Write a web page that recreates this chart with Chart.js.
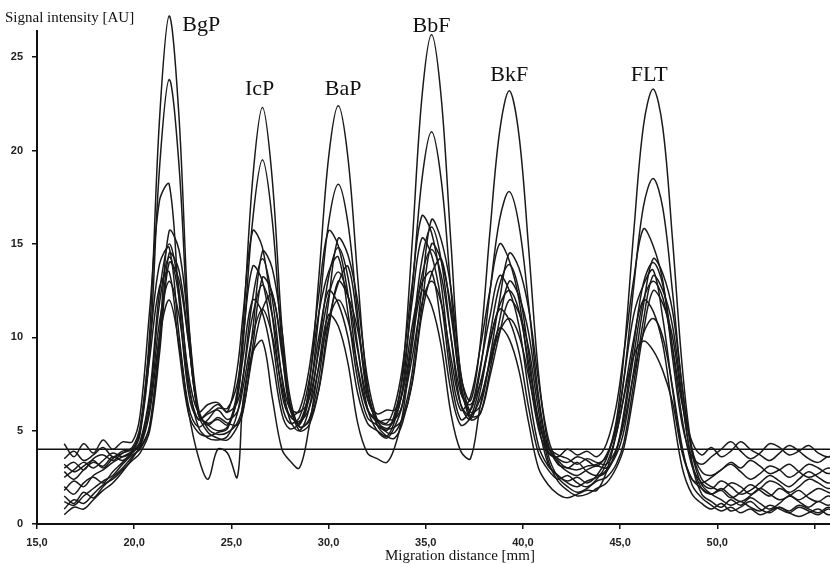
<!DOCTYPE html>
<html>
<head>
<meta charset="utf-8">
<title>Densitogram - signal intensity vs migration distance</title>
<script src="https://cdn.jsdelivr.net/npm/chart.js@4.4.1/dist/chart.umd.min.js"></script>
<style>
  html, body { margin: 0; padding: 0; background: #fff; }
</style>
</head>
<body>
<canvas id="densitogram" width="830" height="564"></canvas>
<script>
/* =====================================
   DATA
===================================== */
// migration distance grid [mm]
const migrationMm = [
  16.4, 16.9, 17.4, 17.9, 18.4, 18.9, 19.4, 19.9,
  20.3, 20.8, 21.3, 21.8, 22.3, 22.8, 23.3,
  23.8, 24.3, 24.8, 25.3,
  25.6, 26.1, 26.6, 27.1, 27.6,
  28.0, 28.5, 29.0,
  29.5, 30.0, 30.5, 31.0, 31.5,
  32.0, 32.5, 33.0, 33.4, 33.8,
  34.3, 34.8, 35.3, 35.8, 36.3, 36.8,
  37.3, 37.8,
  38.3, 38.8, 39.3, 39.8, 40.3, 40.8,
  41.3, 41.8, 42.3, 42.8, 43.3, 43.8, 44.3, 44.8, 45.2,
  45.7, 46.2, 46.7, 47.2, 47.7, 48.2, 48.7,
  49.2, 49.7, 50.2, 50.7, 51.2, 51.7, 52.2, 52.7, 53.2, 53.7, 54.2, 54.7, 55.2, 55.7, 56.2
];

// signal intensity [AU] of each track, same grid as above
const run01 = [3.0, 3.3, 2.9, 3.5, 3.7, 3.4, 3.8, 4.0, 4.9, 10.3, 21.6, 27.2, 21.9, 11.0, 5.9, 5.3, 5.0, 5.2, 7.1, 10.5, 18.5, 22.3, 18.5, 10.5, 6.4, 5.3, 7.4, 13.2, 19.6, 22.4, 19.6, 13.2, 7.4, 5.3, 5.1, 5.7, 8.0, 15.0, 22.8, 26.2, 22.8, 15.0, 8.0, 6.6, 9.6, 15.6, 21.0, 23.2, 20.8, 14.7, 8.1, 4.3, 3.2, 3.0, 2.9, 3.1, 3.2, 3.6, 5.5, 9.1, 15.6, 21.3, 23.3, 21.2, 15.2, 8.4, 4.0, 2.4, 2.0, 1.8, 2.2, 2.0, 1.6, 1.9, 2.3, 2.1, 1.7, 2.0, 2.4, 2.2, 1.9, 2.1];
const run02 = [2.5, 2.9, 3.3, 3.0, 3.4, 3.8, 3.6, 3.9, 4.8, 9.3, 19.0, 23.8, 19.3, 10.2, 5.9, 5.4, 5.6, 5.3, 6.7, 9.6, 16.3, 19.5, 16.3, 9.6, 6.2, 5.4, 6.8, 11.2, 16.1, 18.2, 16.1, 11.2, 6.8, 5.6, 5.3, 5.6, 7.2, 12.5, 18.4, 21.0, 18.4, 12.5, 7.2, 6.1, 8.2, 12.4, 16.3, 17.8, 16.0, 11.7, 6.9, 4.1, 3.5, 3.3, 3.6, 3.4, 3.1, 3.7, 5.1, 7.8, 12.7, 17.0, 18.5, 16.9, 12.4, 7.3, 4.0, 2.8, 2.6, 2.9, 3.3, 3.0, 3.4, 3.1, 2.7, 2.9, 3.2, 2.8, 2.5, 2.7, 3.0, 2.8];
const run03 = [4.3, 3.6, 4.3, 3.8, 4.5, 4.0, 4.4, 4.4, 5.8, 11.5, 17.3, 18.2, 12.1, 7.0, 5.6, 6.0, 6.4, 6.0, 8.3, 11.2, 15.7, 14.8, 11.2, 7.0, 5.8, 6.1, 8.3, 12.3, 15.7, 14.9, 12.3, 8.3, 6.1, 5.6, 5.4, 6.3, 8.4, 12.8, 16.5, 15.6, 12.8, 8.4, 6.1, 6.8, 9.4, 12.5, 15.0, 14.1, 12.0, 8.2, 5.1, 3.8, 3.6, 4.0, 3.7, 3.9, 3.6, 4.3, 6.3, 9.2, 13.1, 15.8, 14.9, 13.0, 8.9, 5.3, 3.6, 3.2, 3.6, 4.0, 4.4, 3.9, 3.5, 3.8, 4.3, 4.1, 3.7, 3.9, 4.2, 3.8, 3.6, 3.9];
const run04 = [3.5, 3.9, 3.4, 3.7, 4.1, 3.6, 3.9, 4.0, 4.1, 5.3, 10.1, 15.7, 14.7, 10.6, 6.2, 5.1, 4.8, 4.9, 5.4, 6.4, 10.4, 14.6, 13.7, 10.4, 6.9, 5.2, 5.6, 7.8, 11.9, 15.3, 14.4, 11.9, 7.8, 5.6, 4.9, 4.9, 5.7, 8.1, 12.6, 16.3, 15.2, 12.6, 8.1, 6.0, 6.3, 8.9, 12.0, 14.5, 13.7, 11.5, 7.7, 4.6, 3.3, 2.8, 2.6, 2.9, 3.1, 3.0, 3.7, 5.0, 8.2, 11.7, 14.2, 13.4, 11.4, 7.3, 3.8, 2.1, 1.6, 1.3, 1.0, 1.2, 0.9, 0.7, 1.0, 0.8, 0.6, 0.9, 0.7, 0.5, 0.8, 0.6];
const run05 = [1.8, 2.3, 2.0, 2.6, 2.9, 3.3, 3.6, 3.9, 4.4, 7.0, 12.4, 15.0, 12.6, 7.6, 5.2, 4.6, 4.5, 4.7, 5.9, 7.8, 12.1, 14.2, 12.1, 7.8, 5.6, 5.0, 6.2, 9.5, 13.2, 14.8, 13.2, 9.5, 6.2, 5.0, 4.6, 5.2, 6.4, 10.0, 14.1, 15.9, 14.1, 10.0, 6.4, 5.6, 7.1, 10.1, 12.8, 13.9, 12.5, 9.1, 5.4, 3.2, 2.6, 2.2, 2.0, 2.3, 2.5, 2.8, 3.9, 6.0, 9.6, 12.9, 14.0, 12.8, 9.4, 5.6, 3.1, 2.2, 1.9, 2.3, 2.0, 1.6, 1.8, 2.2, 2.6, 2.3, 2.0, 2.4, 2.8, 2.5, 2.2, 2.4];
const run06 = [3.2, 2.8, 3.1, 3.4, 3.0, 3.5, 3.8, 4.1, 5.2, 9.6, 13.9, 14.8, 10.2, 6.3, 5.2, 5.6, 6.2, 6.2, 7.5, 10.0, 13.8, 13.0, 10.0, 6.4, 5.4, 5.7, 7.7, 11.3, 13.5, 14.3, 11.3, 7.7, 5.7, 5.3, 5.0, 5.9, 7.8, 11.9, 15.3, 14.4, 11.9, 7.8, 5.6, 6.1, 8.4, 11.1, 13.3, 12.5, 10.6, 7.1, 4.2, 3.1, 2.6, 2.3, 2.5, 2.2, 2.6, 3.5, 5.3, 7.8, 11.2, 12.8, 13.6, 11.0, 7.2, 3.9, 2.4, 1.9, 1.6, 1.9, 1.5, 1.2, 1.5, 1.9, 1.6, 1.3, 1.5, 1.8, 1.4, 1.2, 1.5, 1.3];
const run07 = [1.2, 1.0, 1.5, 1.9, 2.3, 2.6, 3.2, 3.7, 4.0, 5.2, 9.5, 14.5, 13.6, 9.8, 5.9, 4.9, 4.6, 4.5, 5.2, 6.0, 9.5, 13.2, 12.4, 9.5, 6.5, 5.0, 5.3, 7.2, 10.8, 12.9, 13.8, 10.8, 7.2, 5.3, 4.7, 4.6, 5.4, 7.6, 11.6, 15.0, 14.1, 11.6, 7.6, 5.6, 5.9, 8.2, 10.9, 13.0, 12.2, 10.2, 6.6, 3.7, 2.5, 2.0, 1.7, 1.9, 2.3, 2.5, 3.2, 4.4, 7.5, 10.9, 13.3, 12.5, 10.6, 6.7, 3.2, 1.6, 1.2, 0.9, 1.3, 1.0, 1.4, 1.1, 0.8, 1.1, 1.5, 1.2, 0.9, 1.2, 1.0, 1.3];
const run08 = [2.8, 2.4, 2.9, 3.3, 3.1, 3.6, 3.4, 3.8, 4.3, 6.7, 11.8, 14.3, 12.2, 8.0, 6.0, 6.4, 6.5, 6.0, 6.5, 7.9, 11.2, 12.8, 11.2, 7.9, 6.2, 6.0, 6.7, 9.3, 12.2, 13.5, 12.2, 9.3, 6.7, 5.9, 6.1, 6.1, 7.0, 10.0, 13.3, 14.7, 13.3, 10.0, 7.0, 6.4, 7.5, 9.7, 11.7, 12.5, 11.4, 8.6, 5.6, 3.9, 3.4, 3.0, 3.3, 2.8, 2.6, 2.9, 3.9, 5.7, 9.0, 12.0, 13.0, 12.1, 9.4, 6.4, 4.4, 3.7, 4.1, 3.6, 3.9, 4.4, 4.0, 3.7, 3.4, 3.8, 4.2, 3.9, 3.5, 3.3, 3.6, 3.4];
const run09 = [0.8, 1.3, 1.1, 1.6, 2.1, 2.4, 2.9, 3.4, 3.8, 5.0, 9.1, 14.0, 13.1, 9.7, 6.0, 5.3, 5.7, 5.4, 5.3, 6.1, 9.1, 11.5, 12.3, 9.1, 6.5, 5.2, 5.5, 7.2, 10.4, 13.0, 12.2, 10.4, 7.2, 5.5, 5.1, 5.2, 5.6, 7.5, 11.2, 13.4, 14.2, 11.2, 7.5, 5.8, 5.9, 7.9, 10.2, 12.0, 11.3, 9.4, 6.1, 3.4, 2.3, 1.8, 1.5, 1.6, 1.9, 2.2, 3.0, 4.1, 7.0, 10.3, 12.5, 11.8, 10.0, 6.5, 3.3, 1.9, 1.6, 1.8, 1.4, 1.7, 2.1, 1.8, 1.5, 1.9, 1.6, 1.3, 1.6, 1.9, 1.7, 1.5];
const run10 = [2.0, 1.6, 2.2, 2.5, 2.2, 2.8, 3.3, 3.9, 5.0, 8.9, 12.7, 13.5, 9.4, 5.9, 4.9, 4.7, 4.9, 5.1, 6.8, 8.9, 12.0, 11.3, 8.9, 5.9, 5.1, 5.4, 7.0, 10.0, 12.5, 11.8, 10.0, 7.0, 5.4, 5.0, 4.7, 5.5, 7.1, 10.6, 12.9, 13.5, 10.6, 7.1, 5.3, 5.7, 7.5, 9.8, 11.5, 10.9, 9.2, 6.2, 3.8, 2.9, 2.4, 2.6, 2.2, 2.0, 2.4, 3.2, 4.8, 6.9, 9.9, 12.0, 11.4, 9.6, 6.1, 3.0, 1.6, 1.1, 0.8, 1.1, 0.7, 0.9, 1.2, 0.8, 0.6, 0.9, 0.7, 1.0, 0.8, 0.6, 0.9, 0.7];
const run11 = [0.5, 0.9, 0.8, 1.3, 1.8, 2.2, 2.8, 3.5, 4.2, 6.3, 10.8, 13.0, 11.2, 7.4, 5.6, 5.9, 6.1, 5.6, 6.0, 7.3, 10.1, 11.5, 10.1, 7.3, 5.8, 5.5, 6.2, 8.4, 10.9, 12.0, 10.9, 8.4, 6.2, 5.5, 5.6, 5.6, 6.4, 8.9, 11.8, 13.0, 11.8, 8.9, 6.4, 5.8, 6.7, 8.6, 10.3, 11.0, 10.1, 7.9, 5.5, 4.1, 3.7, 3.5, 3.2, 3.5, 3.3, 3.2, 4.0, 5.4, 8.0, 10.2, 11.0, 10.0, 7.3, 4.1, 2.1, 1.4, 1.0, 0.7, 0.9, 0.6, 0.8, 0.5, 0.7, 0.9, 0.6, 0.4, 0.6, 0.8, 0.5, 0.6];
const run12 = [1.5, 1.1, 1.7, 1.4, 2.0, 2.5, 3.0, 3.6, 4.1, 6.0, 10.0, 12.0, 9.7, 6.0, 3.6, 2.4, 4.0, 3.8, 2.5, 6.6, 9.2, 9.8, 6.8, 4.0, 3.4, 3.0, 5.2, 8.5, 11.2, 10.6, 8.6, 5.4, 3.8, 3.5, 3.3, 4.1, 5.8, 9.5, 12.5, 11.7, 9.5, 5.9, 3.9, 3.5, 6.3, 8.7, 10.5, 9.9, 8.2, 5.4, 3.0, 2.1, 1.6, 1.4, 1.6, 1.8, 1.8, 2.8, 4.8, 6.8, 9.0, 9.8, 9.3, 8.2, 6.5, 3.8, 2.4, 2.2, 2.5, 2.9, 3.2, 2.8, 2.4, 2.7, 3.1, 2.9, 2.5, 2.8, 3.2, 3.0, 2.7, 2.9];

const semuaRun = [run01, run02, run03, run04, run05, run06, run07, run08, run09, run10, run11, run12];

// peak names and where their labels sit (mm, AU)
const peakNames = ["BgP", "IcP", "BaP", "BbF", "BkF", "FLT"];
const peakLabelMm = [23.45, 26.45, 30.75, 35.3, 39.3, 46.5];
const peakLabelAU = [26.4, 22.95, 22.95, 26.35, 23.7, 23.7];

// horizontal reference line
const garisBatasMm = [15, 56.2];
const garisBatasAU = 4;

// axis ranges
const sumbuX = { min: 15, max: 55.8, step: 5 };
const sumbuY = { min: 0, max: 26.4, step: 5 };

/* =====================================
   DATASETS
===================================== */
const clipAtas = { left: 0, top: false, right: 0, bottom: 0 }; // peaks may poke above the axis

const datasets = semuaRun.map(function(run) {
    return {
        data: migrationMm.map((mm, i) => ({ x: mm, y: run[i] })),
        borderColor: "#1a1a1a",
        borderWidth: 1.5,
        pointRadius: 0,
        tension: 0.35,
        fill: false,
        clip: clipAtas
    };
});

datasets.push({
    data: garisBatasMm.map(mm => ({ x: mm, y: garisBatasAU })),
    borderColor: "#111",
    borderWidth: 1.6,
    pointRadius: 0,
    tension: 0,
    clip: 0
});

/* =====================================
   TEXT (peak names + axis titles)
===================================== */
const teksGrafik = {
    id: "teksGrafik",
    afterDatasetsDraw(chart) {
        const { ctx, chartArea, scales } = chart;
        ctx.save();
        ctx.fillStyle = "#111";
        ctx.textBaseline = "alphabetic";

        ctx.font = '22px "Liberation Serif", "Times New Roman", serif';
        ctx.textAlign = "center";
        peakNames.forEach(function(nama, i) {
            ctx.fillText(nama, scales.x.getPixelForValue(peakLabelMm[i]), scales.y.getPixelForValue(peakLabelAU[i]));
        });

        ctx.font = '15px "Liberation Serif", "Times New Roman", serif';
        ctx.textAlign = "left";
        ctx.fillText("Signal intensity [AU]", 5, chartArea.top - 9);

        ctx.textAlign = "center";
        ctx.fillText("Migration distance [mm]", scales.x.getPixelForValue(36.76), chartArea.bottom + 36);
        ctx.restore();
    }
};

/* =====================================
   CHART
===================================== */
const fontTick = { family: '"Liberation Sans", Arial, sans-serif', size: 11, weight: "bold" };

new Chart(document.getElementById("densitogram"), {
    type: "line",
    data: { datasets: datasets },
    options: {
        responsive: false,
        animation: false,
        layout: { padding: { left: 0, top: 31, right: 0, bottom: 0 } },
        plugins: {
            legend: { display: false },
            tooltip: { enabled: false }
        },
        scales: {
            x: {
                type: "linear",
                min: sumbuX.min,
                max: sumbuX.max,
                afterFit: s => { s.height = 40; },
                border: { color: "#111", width: 2 },
                grid: { drawOnChartArea: false, tickLength: 5, color: "#111", lineWidth: 1.5 },
                ticks: {
                    stepSize: sumbuX.step,
                    includeBounds: false,
                    maxRotation: 0,
                    autoSkip: false,
                    padding: 7,
                    color: "#222",
                    font: fontTick,
                    callback: v => v >= 55 ? "" : v.toFixed(1).replace(".", ",")
                }
            },
            y: {
                min: sumbuY.min,
                max: sumbuY.max,
                afterFit: s => { s.width = 37; },
                border: { color: "#111", width: 2 },
                grid: { drawOnChartArea: false, tickLength: 5, color: "#111", lineWidth: 1.5 },
                ticks: {
                    stepSize: sumbuY.step,
                    includeBounds: false,
                    padding: 9,
                    color: "#222",
                    font: fontTick
                }
            }
        }
    },
    plugins: [teksGrafik]
});
</script>
</body>
</html>
